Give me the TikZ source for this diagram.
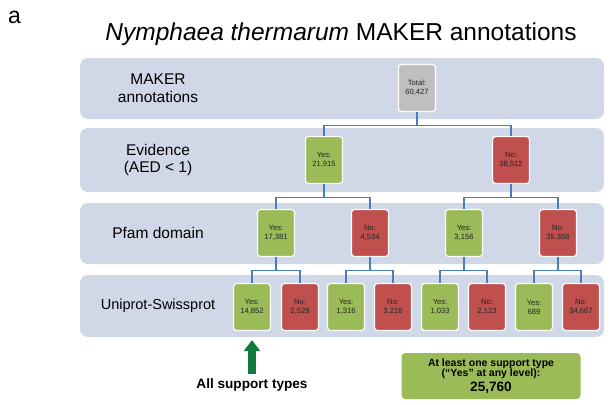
\documentclass[tikz,border=0pt]{standalone}
\usepackage{fontspec}
\setmainfont{Liberation Sans}
\usetikzlibrary{arrows.meta}
\usepackage{xcolor}

\definecolor{bandblue}{RGB}{208,216,232}
\definecolor{yesgreen}{RGB}{155,187,89}
\definecolor{nored}{RGB}{192,80,77}
\definecolor{totalgray}{RGB}{191,191,191}
\definecolor{linkblue}{RGB}{74,126,187}
\definecolor{supgreen}{RGB}{18,122,62}
\definecolor{darktext}{RGB}{35,35,35}

\begin{document}
\begin{tikzpicture}[x=1pt, y=-1pt,
    band/.style={fill=bandblue, rounded corners=8pt},
    rowlabel/.style={align=center, inner sep=0pt, font=\fontsize{15.5}{17.5}\selectfont},
    count/.style={draw=white, line width=1.2pt, rounded corners=3pt, minimum width=37pt, minimum height=47pt, inner sep=0pt, align=center, text=darktext, font=\fontsize{7.6}{9}\selectfont},
    total/.style={count, fill=totalgray},
    yes/.style={count, fill=yesgreen},
    no/.style={count, fill=nored},
    link/.style={draw=linkblue, line width=1.3pt},
    suparrow/.style={draw=supgreen, line width=8pt, -{Triangle[width=16pt, length=11pt]}}]
\useasboundingbox (0,0) rectangle (612,404);

% panel letter and title
\node[anchor=base west, inner sep=0pt, font=\fontsize{23}{27}\selectfont] (panel) at (8,24) {a};
\node[anchor=base, inner sep=0pt, font=\fontsize{24.5}{28}\selectfont] (title) at (341,41) {\textit{Nymphaea thermarum} MAKER annotations};

% row bands
\fill[band] (80,58) rectangle (604,119);
\fill[band] (80,128) rectangle (604,192);
\fill[band] (80,203) rectangle (604,264);
\fill[band] (80,275) rectangle (604,337);

\node[rowlabel] (r1) at (158,88) {MAKER\\annotations};
\node[rowlabel] (r2) at (158,160) {Evidence\\(AED < 1)};
\node[rowlabel] (r3) at (158,233) {Pfam domain};
\node[rowlabel, font=\fontsize{14.5}{17}\selectfont] (r4) at (158,306) {Uniprot-Swissprot};

% counts
\node[total] (tot) at (417,88) {Total:\\60,427};

\node[yes] (e1) at (324,160) {Yes:\\21,915};
\node[no]  (e2) at (511,160) {No:\\38,512};

\node[yes] (p1) at (276,233) {Yes:\\17,381};
\node[no]  (p2) at (370,233) {No:\\4,534};
\node[yes] (p3) at (464,233) {Yes:\\3,156};
\node[no]  (p4) at (558,233) {No:\\35,356};

\node[yes] (u1) at (252,307) {Yes:\\14,852};
\node[no]  (u2) at (300,307) {No:\\2,529};
\node[yes] (u3) at (346,307) {Yes:\\1,316};
\node[no]  (u4) at (393,307) {No:\\3,218};
\node[yes] (u5) at (440,307) {Yes:\\1,033};
\node[no]  (u6) at (487,307) {No:\\2,123};
\node[yes] (u7) at (534,307) {Yes:\\689};
\node[no]  (u8) at (581,307) {No:\\34,667};

% tree links
\foreach \p/\c in {tot/e1, tot/e2, e1/p1, e1/p2, e2/p3, e2/p4,
                   p1/u1, p1/u2, p2/u3, p2/u4, p3/u5, p3/u6, p4/u7, p4/u8}
  \draw[link] (\p.south) -- ++(0,13.5) -| (\c.north);

% bottom notes
\node[anchor=base, inner sep=0pt, font=\bfseries\fontsize{13.6}{16}\selectfont] (allsup) at (252,388) {All support types};
\draw[suparrow] ([yshift=4pt]allsup.north) -- ([yshift=-9pt]u1.south);

\node[fill=yesgreen, rounded corners=4pt, minimum width=179pt, minimum height=46pt, inner sep=0pt, align=center, font=\bfseries\fontsize{10.5}{10.5}\selectfont] (any) at (491,376)
  {At least one support type\\(“Yes” at any level):\\[2pt]{\fontsize{13.6}{14}\selectfont 25,760}};
\end{tikzpicture}
\end{document}
